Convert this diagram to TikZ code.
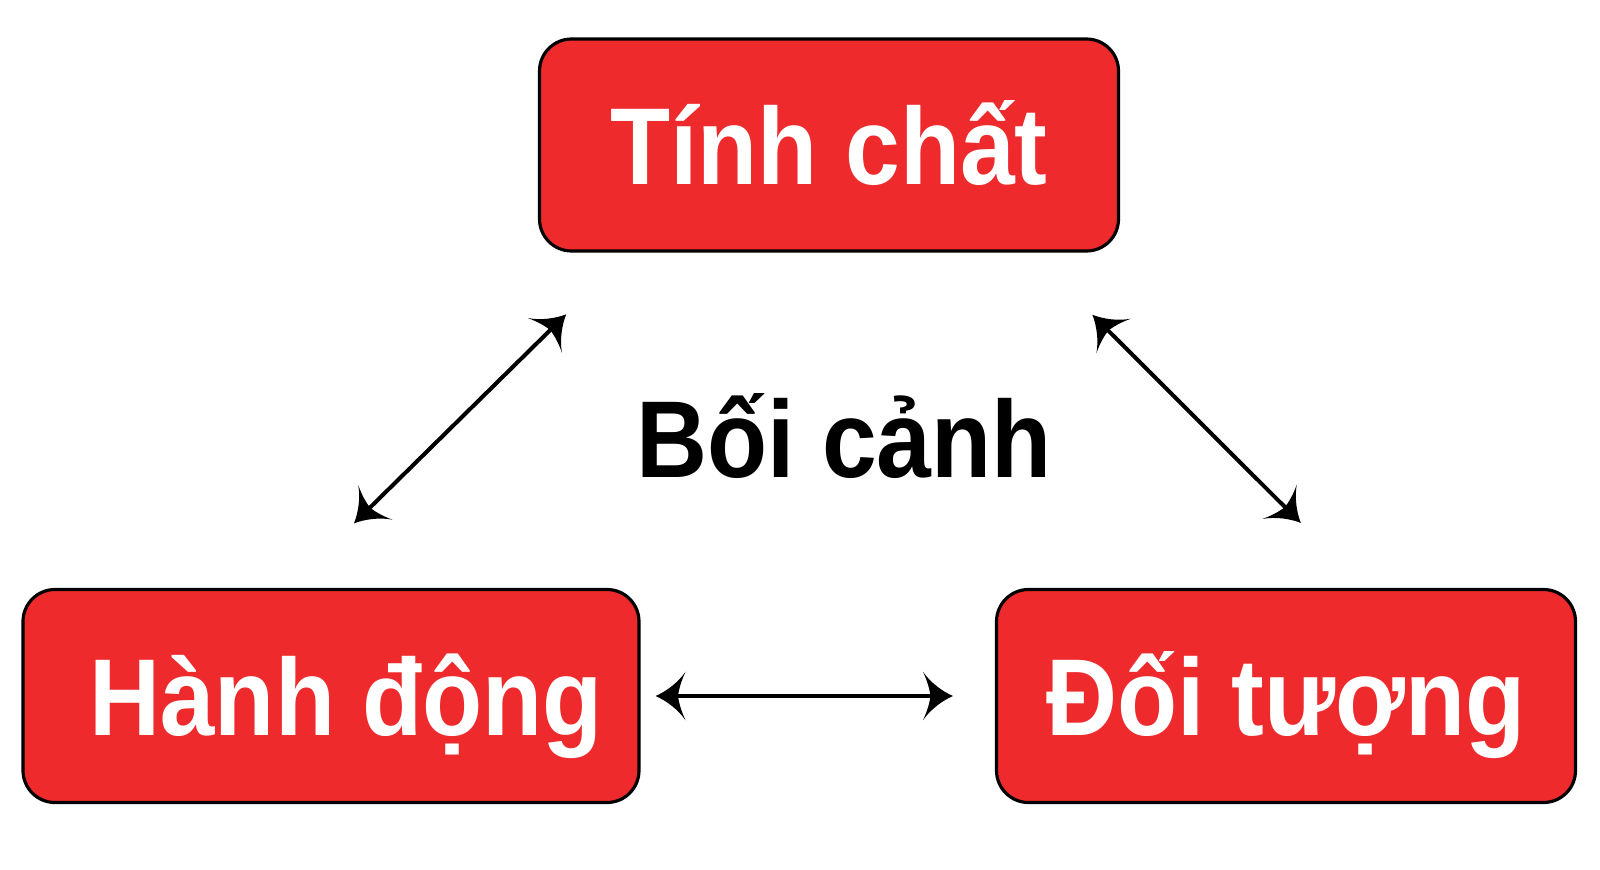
\documentclass[tikz,border=0pt]{standalone}
\usepackage{fontspec}
\newfontfamily\labfont{Liberation Sans Bold}[FakeStretch=0.9]
\usetikzlibrary{arrows.meta}
\definecolor{boxred}{HTML}{EE2A2C}
% curved barbed tip
\pgfdeclarearrow{
  name=Swoop,
  parameters={\the\pgfarrowlength},
  setup code={%
    \pgfarrowssettipend{0pt}%
    \pgfarrowssetlineend{-0.7\pgfarrowlength}%
    \pgfarrowssetvisualbackend{-0.75\pgfarrowlength}%
    \pgfarrowssetbackend{-\pgfarrowlength}%
    \pgfarrowssavethe\pgfarrowlength},
  drawing code={%
    \pgfpathmoveto{\pgfpoint{0pt}{0pt}}%
    \pgfpathcurveto{\pgfpoint{-0.35\pgfarrowlength}{0.15\pgfarrowlength}}%
      {\pgfpoint{-0.75\pgfarrowlength}{0.45\pgfarrowlength}}{\pgfpoint{-\pgfarrowlength}{0.81\pgfarrowlength}}%
    \pgfpathcurveto{\pgfpoint{-0.85\pgfarrowlength}{0.5\pgfarrowlength}}%
      {\pgfpoint{-0.77\pgfarrowlength}{0.2\pgfarrowlength}}{\pgfpoint{-0.75\pgfarrowlength}{0pt}}%
    \pgfpathcurveto{\pgfpoint{-0.77\pgfarrowlength}{-0.2\pgfarrowlength}}%
      {\pgfpoint{-0.85\pgfarrowlength}{-0.5\pgfarrowlength}}{\pgfpoint{-\pgfarrowlength}{-0.81\pgfarrowlength}}%
    \pgfpathcurveto{\pgfpoint{-0.75\pgfarrowlength}{-0.45\pgfarrowlength}}%
      {\pgfpoint{-0.35\pgfarrowlength}{-0.15\pgfarrowlength}}{\pgfpoint{0pt}{0pt}}%
    \pgfpathclose
    \pgfusepathqfill},
  defaults={length=0.3cm}
}
\begin{document}
\begin{tikzpicture}
           [box/.style={draw=black,line width=0.9pt,fill=boxred,rounded corners=0.32cm,
              text=white,font=\labfont\fontsize{31.1}{37}\selectfont,
              text height=0.786cm,text depth=0pt,inner sep=0pt},
            link/.style={line width=1.15pt,{Swoop}-{Swoop}}]
           \useasboundingbox (0,0) rectangle (16,-8.69);

           \node[box,minimum width=5.79cm,minimum height=2.12cm] (tinh) at (8.29,-1.45) {Tính chất};
           \node[box,minimum width=6.16cm,minimum height=2.13cm] (hanh) at (3.31,-6.96) {\hspace*{0.3cm}Hành động};
           \node[box,minimum width=5.79cm,minimum height=2.13cm] (doi) at (12.86,-6.96) {Đối tượng};

           \node[font=\labfont\fontsize{31.1}{37}\selectfont,text height=0.786cm,text depth=0pt,inner sep=0pt]
              (boi) at (8.44,-4.38) {Bối cảnh};

           \draw[link,shorten <=0.88cm,shorten >=0.92cm] ([xshift=0.91cm]tinh.south west) -- ([xshift=2.67cm]hanh.north west);
           \draw[link,shorten <=0.88cm,shorten >=0.92cm] ([xshift=-0.90cm]tinh.south east) -- ([xshift=3.71cm]doi.north west);
           \draw[link,shorten <=0.15cm,shorten >=0.42cm] (hanh.east) -- (doi.west);
         \end{tikzpicture}
\end{document}
